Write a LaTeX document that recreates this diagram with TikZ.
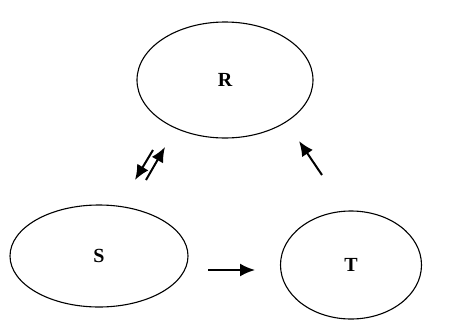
\documentclass[tikz,border=0pt]{standalone}
\usepackage{fontspec}
\setmainfont{Liberation Serif}
\usetikzlibrary{shapes.geometric,arrows.meta}
\begin{document}
\begin{tikzpicture}[x=1pt,y=-1pt,
  blob/.style={draw,ellipse,line width=1.1pt,inner sep=0pt,font=\bfseries\fontsize{20}{20}\selectfont},
  arr/.style={line width=2pt,-{Latex[length=15pt,width=13pt]}}]
\useasboundingbox (0,0) rectangle (455,335);
\node[blob,minimum width=176pt,minimum height=116pt] (R) at (225,80) {R};
\node[blob,minimum width=178pt,minimum height=102pt] (S) at (99,256) {S};
\node[blob,minimum width=141pt,minimum height=108pt] (T) at (351,265) {T};
\coordinate (a1) at (153,150);
\coordinate (a2) at (135,180);
\coordinate (b1) at (146,180);
\coordinate (b2) at (165,147);
\coordinate (c1) at (322,175);
\coordinate (c2) at (299,141);
\coordinate (d1) at (208,270);
\coordinate (d2) at (255,270);
\draw[arr] (a1) -- (a2);
\draw[arr] (b1) -- (b2);
\draw[arr] (c1) -- (c2);
\draw[arr] (d1) -- (d2);
\end{tikzpicture}
\end{document}
